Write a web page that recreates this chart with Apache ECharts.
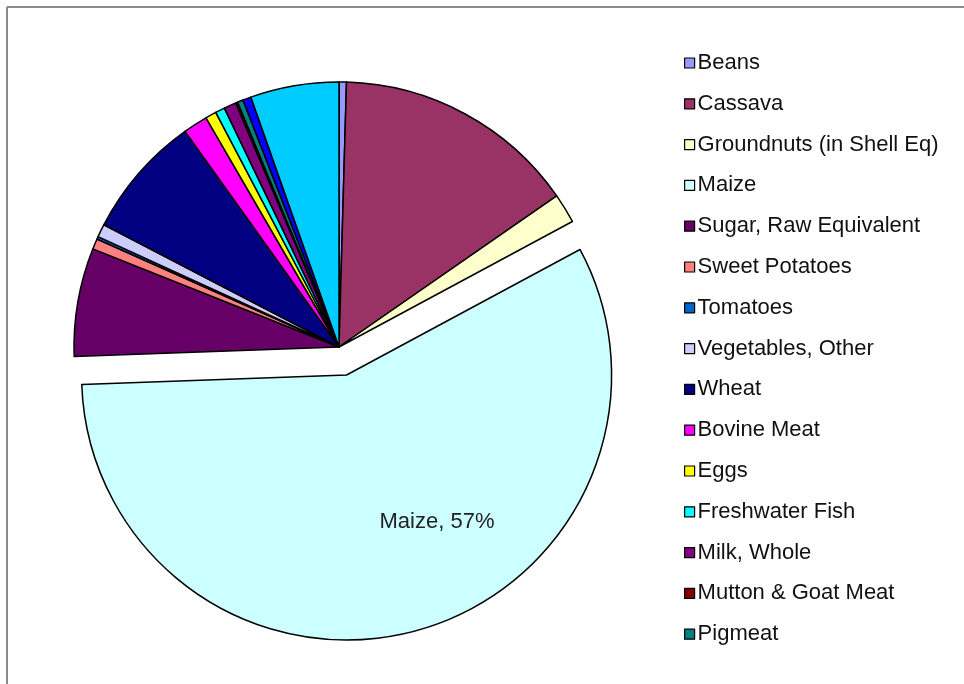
<!DOCTYPE html>
<html>
<head>
<meta charset="utf-8">
<script src="https://cdn.jsdelivr.net/npm/echarts@6/dist/echarts.min.js"></script>
<style>html,body{margin:0;padding:0;background:#fff;}#c{width:964px;height:684px;}</style>
</head>
<body>
<div id="c"></div>
<script>
// Data (percent shares, clockwise from 12 o'clock)
var categories = ["Beans","Cassava","Groundnuts (in Shell Eq)","Maize","Sugar, Raw Equivalent","Sweet Potatoes","Tomatoes","Vegetables, Other","Wheat","Bovine Meat","Eggs","Freshwater Fish","Milk, Whole","Mutton & Goat Meat","Pigmeat","Poultry Meat","Other"];
var values = [0.45,14.9,1.8,57.3,6.6,0.65,0.15,0.8,7.5,1.5,0.67,0.58,0.75,0.12,0.35,0.5,5.4];
var colors = ["#9999FF","#993366","#FFFFCC","#CCFFFF","#660066","#FF8080","#0066CC","#CCCCFF","#000080","#FF00FF","#FFFF00","#00FFFF","#800080","#800000","#008080","#0000FF","#00CCFF"];
var legendNames = categories.slice(0, 15);
var explodedName = "Maize";

var data = categories.map(function (n, i) {
  var item = { name: n, value: values[i], itemStyle: { color: colors[i] } };
  if (n === explodedName) {
    item.selected = true;
    item.label = { show: true, position: 'inside', formatter: '\n{b}, {d}%', fontSize: 22, lineHeight: 32, color: '#222', fontFamily: 'Liberation Sans, Arial, sans-serif', padding: [0, 0, 0, 110] };
  }
  return item;
});

var chart = echarts.init(document.getElementById('c'), null, { renderer: 'canvas' });
chart.setOption({
  backgroundColor: '#ffffff',
  animation: false,
  color: colors,
  graphic: [
    { type: 'line', shape: { x1: 7, y1: 7, x2: 964, y2: 7 }, style: { stroke: '#8a8a8a', lineWidth: 2 } },
    { type: 'line', shape: { x1: 7, y1: 7, x2: 7, y2: 684 }, style: { stroke: '#8a8a8a', lineWidth: 2 } }
  ],
  legend: {
    orient: 'vertical',
    left: 679,
    top: 47,
    data: legendNames,
    icon: 'rect',
    itemWidth: 10,
    itemHeight: 10,
    itemGap: 18.8,
    selectedMode: false,
    itemStyle: { borderColor: '#000', borderWidth: 1.2 },
    textStyle: { fontSize: 22, lineHeight: 20, color: '#111', fontFamily: 'Liberation Sans, Arial, sans-serif', padding: [0, 0, 0, -2] }
  },
  series: [{
    type: 'pie',
    center: [339, 347],
    radius: 265,
    startAngle: 90,
    clockwise: true,
    selectedMode: 'single',
    selectedOffset: 29,
    percentPrecision: 0,
    avoidLabelOverlap: false,
    label: { show: false },
    labelLine: { show: false },
    emphasis: { disabled: true },
    itemStyle: { borderColor: '#000', borderWidth: 1.5 },
    data: data
  }]
});
</script>
</body>
</html>
